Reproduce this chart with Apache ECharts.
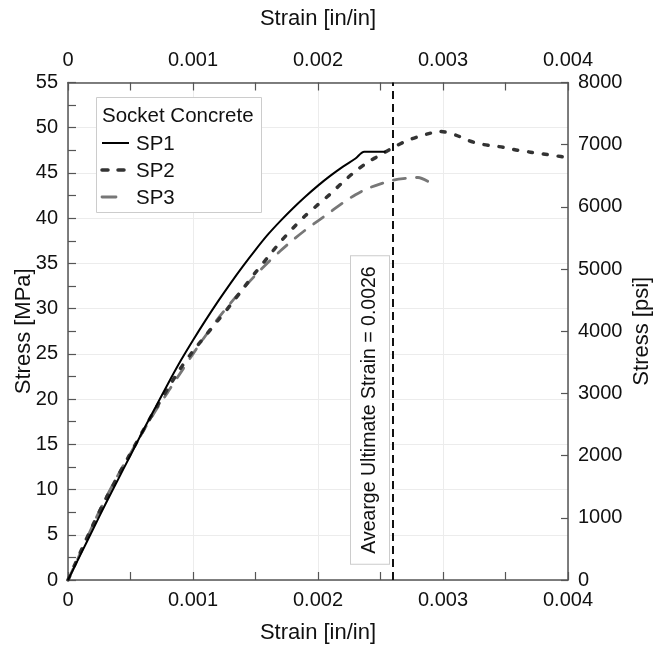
<!DOCTYPE html>
<html><head><meta charset="utf-8">
<script src="https://cdn.jsdelivr.net/npm/echarts@6/dist/echarts.min.js"></script>
<style>html,body{margin:0;padding:0;background:#fff}#c{width:654px;height:648px}</style>
</head><body><div id="c"></div>
<script>
// ---- data (strain in in/in, stress in MPa) ----
const sp1Strain = [0,0.0001,0.0002,0.0003,0.0004,0.0005,0.0006,0.0007,0.0008,0.0009,0.001,0.0011,0.0012,0.0013,0.0014,0.0015,0.0016,0.0017,0.0018,0.0019,0.002,0.0021,0.0022,0.0023,0.00237,0.00254];
const sp1Stress = [0,2.8,5.6,8.4,11.1,13.8,16.5,19.1,21.7,24.2,26.5,28.7,30.8,32.8,34.7,36.5,38.2,39.7,41.1,42.4,43.6,44.7,45.7,46.6,47.35,47.35];

const sp2Strain = [0,0.0001,0.0002,0.0003,0.0004,0.0005,0.0006,0.0007,0.0008,0.0009,0.001,0.0011,0.0012,0.0013,0.0014,0.0015,0.0016,0.0017,0.0018,0.0019,0.002,0.0021,0.0022,0.0023,0.0024,0.0025,0.0026,0.0027,0.0028,0.0029,0.00297,0.0031,0.0032,0.0033,0.0034,0.0035,0.0036,0.0037,0.0038,0.0039,0.004];
const sp2Stress = [0,3.1,6.1,8.9,11.5,14.0,16.5,18.9,21.2,23.4,25.3,27.0,28.7,30.4,32.2,34.0,35.7,37.4,38.9,40.3,41.5,42.7,44.0,45.2,46.2,47.0,47.8,48.5,49.0,49.4,49.6,49.2,48.6,48.2,48.0,47.8,47.5,47.3,47.1,46.9,46.7];

const sp3Strain = [0,0.0001,0.0002,0.0003,0.0004,0.0005,0.0006,0.0007,0.0008,0.0009,0.001,0.0011,0.0012,0.0013,0.0014,0.0015,0.0016,0.0017,0.0018,0.0019,0.002,0.0021,0.0022,0.0023,0.0024,0.0025,0.0026,0.0027,0.0028,0.0029];
const sp3Stress = [0,3.0,6.1,9.0,11.6,14.0,16.4,18.7,20.8,22.9,25.0,27.0,28.9,30.6,32.2,33.7,35.1,36.4,37.6,38.7,39.7,40.7,41.7,42.6,43.3,43.8,44.2,44.4,44.5,43.9];

const avgUltimateStrain = 0.0026;
const stressRangeMPa = [0, 55];
const strainRange = [0, 0.004];
const psiRange = [0, 8000];
const seriesNames = ['SP1', 'SP2', 'SP3'];
const legendTitle = 'Socket Concrete';
const annotationText = 'Avearge Ultimate Strain = 0.0026';
const xName = 'Strain [in/in]';
const yLeftName = 'Stress [MPa]';
const yRightName = 'Stress [psi]';

const pairs = (xs, ys) => xs.map((x, i) => [x, ys[i]]);

const FONT = 'Liberation Sans, Arial, sans-serif';
const AXIS_COLOR = '#555';
const TEXT_COLOR = '#111';
const GRID_COLOR = '#ececec';

const seriesStyles = [
  {color: '#000', width: 2, type: 'solid', cap: 'butt'},
  {color: '#333', width: 3.5, type: [4, 11], cap: 'round'},
  {color: '#777', width: 2.8, type: [12, 11], cap: 'round'}
];
const legendDash = [null, [6, 10], [14, 40]];

const chart = echarts.init(document.getElementById('c'), null, {renderer: 'canvas'});

const xAxisBase = (pos, idx) => ({
  type: 'value', position: pos, min: strainRange[0], max: strainRange[1], interval: 0.001,
  name: xName, nameLocation: 'middle', nameGap: pos === 'bottom' ? 42 : 53, nameMoveOverlap: false,
  nameTextStyle: {fontSize: 22, color: TEXT_COLOR, fontFamily: FONT},
  axisLine: {show: true, onZero: false, lineStyle: {color: AXIS_COLOR, width: 1.5}},
  axisTick: {show: true, inside: true, length: 8, lineStyle: {color: AXIS_COLOR, width: 1.2}},
  minorTick: {show: true, splitNumber: 2, length: 8, lineStyle: {color: AXIS_COLOR, width: 1.2}},
  splitLine: {show: idx === 0, lineStyle: {color: GRID_COLOR, width: 1}},
  axisLabel: {fontSize: 20, color: TEXT_COLOR, fontFamily: FONT, margin: pos === 'bottom' ? 10 : 12,
    formatter: v => (v === 0 ? '0' : v.toFixed(3))}
});

const option = {
  animation: false,
  backgroundColor: '#fff',
  grid: {left: 68, right: 86, top: 82.5, bottom: 68, containLabel: false, outerBoundsMode: 'none'},
  xAxis: [xAxisBase('bottom', 0), xAxisBase('top', 1)],
  yAxis: [
    {
      type: 'value', position: 'left', min: stressRangeMPa[0], max: stressRangeMPa[1], interval: 5,
      name: yLeftName, nameLocation: 'middle', nameGap: 33, nameRotate: 90, nameMoveOverlap: false,
      nameTextStyle: {fontSize: 22, color: TEXT_COLOR, fontFamily: FONT},
      axisLine: {show: true, onZero: false, lineStyle: {color: AXIS_COLOR, width: 1.5}},
      axisTick: {show: true, inside: true, length: 8, lineStyle: {color: AXIS_COLOR, width: 1.2}},
      minorTick: {show: true, splitNumber: 2, length: 8, lineStyle: {color: AXIS_COLOR, width: 1.2}},
      splitLine: {show: true, lineStyle: {color: GRID_COLOR, width: 1}},
      axisLabel: {fontSize: 20, color: TEXT_COLOR, fontFamily: FONT, margin: 10}
    },
    {
      type: 'value', position: 'right', min: psiRange[0], max: psiRange[1], interval: 1000,
      name: yRightName, nameLocation: 'middle', nameGap: 63, nameRotate: 90, nameMoveOverlap: false,
      nameTextStyle: {fontSize: 22, color: TEXT_COLOR, fontFamily: FONT},
      axisLine: {show: true, onZero: false, lineStyle: {color: AXIS_COLOR, width: 1.5}},
      axisTick: {show: true, inside: true, length: 7, lineStyle: {color: AXIS_COLOR, width: 1.2}},
      splitLine: {show: false},
      axisLabel: {fontSize: 20, color: TEXT_COLOR, fontFamily: FONT, margin: 10, formatter: v => String(v)}
    }
  ],
  series: [
    {
      name: seriesNames[0], type: 'line', data: pairs(sp1Strain, sp1Stress), symbol: 'none',
      smooth: 0.3, lineStyle: seriesStyles[0], itemStyle: {color: seriesStyles[0].color}, z: 5
    },
    {
      name: seriesNames[1], type: 'line', data: pairs(sp2Strain, sp2Stress), symbol: 'none',
      smooth: 0.3, lineStyle: seriesStyles[1], itemStyle: {color: seriesStyles[1].color}, z: 4
    },
    {
      name: seriesNames[2], type: 'line', data: pairs(sp3Strain, sp3Stress), symbol: 'none',
      smooth: 0.3, lineStyle: seriesStyles[2], itemStyle: {color: seriesStyles[2].color}, z: 3
    },
    {
      name: 'avg', type: 'line', data: [[avgUltimateStrain, stressRangeMPa[0]], [avgUltimateStrain, stressRangeMPa[1]]],
      symbol: 'none', lineStyle: {color: '#111', width: 2, type: [8, 5]}, z: 6, silent: true
    }
  ]
};
chart.setOption(option);

// legend box (drawn with graphics to reproduce line samples), annotation label placed by axis conversion
const lineX = chart.convertToPixel({xAxisIndex: 0}, avgUltimateStrain);
const yBot = chart.convertToPixel({yAxisIndex: 0}, stressRangeMPa[0]);
const legendItemsY = [143, 170, 197];
const legendGraphics = [
  {type: 'rect', shape: {x: 96.5, y: 97.5, width: 165, height: 115},
   style: {fill: '#fff', stroke: '#ccc', lineWidth: 1}, z: 1},
  {type: 'text', x: 102, y: 116, z: 2,
   style: {text: legendTitle, fontSize: 20.5, fontFamily: FONT, fill: TEXT_COLOR, verticalAlign: 'middle', align: 'left'}}
];
seriesNames.forEach((nm, i) => {
  const st = seriesStyles[i];
  legendGraphics.push({type: 'line', z: 2, shape: {x1: 102, y1: legendItemsY[i], x2: 129, y2: legendItemsY[i]},
    style: {stroke: st.color, lineWidth: st.width, lineDash: legendDash[i], lineCap: st.cap}});
  legendGraphics.push({type: 'text', x: 136, y: legendItemsY[i] + 1, z: 2,
    style: {text: nm, fontSize: 20.5, fontFamily: FONT, fill: TEXT_COLOR, verticalAlign: 'middle', align: 'left'}});
});
chart.setOption({
  graphic: legendGraphics.concat([
    {type: 'text', x: lineX - 23, y: yBot - 170, rotation: Math.PI / 2, z: 10,
     style: {text: annotationText, fontSize: 19.5, fontFamily: FONT, fill: TEXT_COLOR,
       align: 'center', verticalAlign: 'middle', backgroundColor: '#fff', borderColor: '#ccc', borderWidth: 1,
       padding: [9, 10]}}
  ])
});
</script>
</body></html>
